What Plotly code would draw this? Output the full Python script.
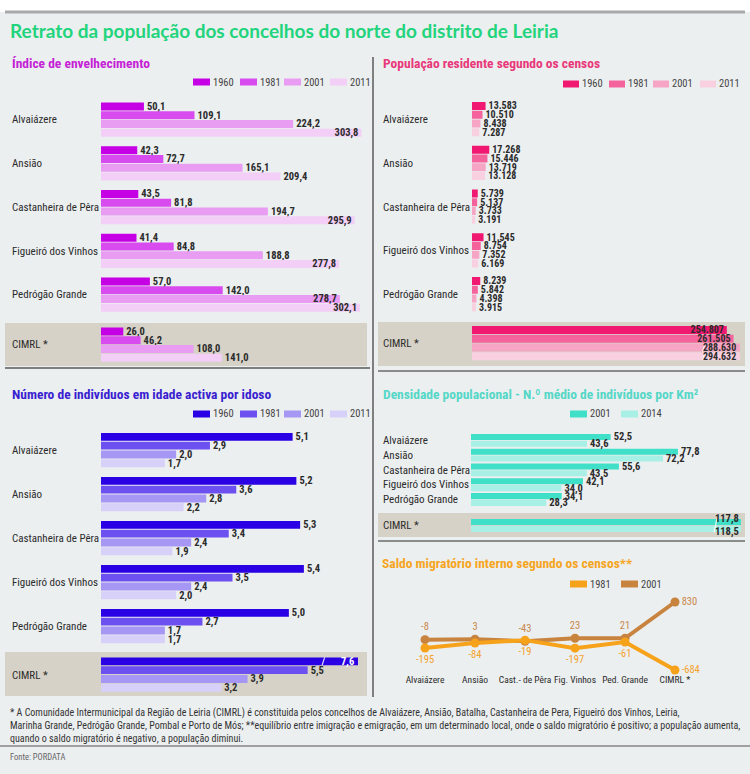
import plotly.graph_objects as go

W, H = 750, 774

# ---------------- data ----------------
concelhos = ["Alvaiázere", "Ansião", "Castanheira de Pêra", "Figueiró dos Vinhos", "Pedrógão Grande"]
cimrl_label = "CIMRL *"
anos_censos = ["1960", "1981", "2001", "2011"]
anos_dens = ["2001", "2014"]
anos_mig = ["1981", "2001"]

env_1960 = [50.1, 42.3, 43.5, 41.4, 57.0]
env_1981 = [109.1, 72.7, 81.8, 84.8, 142.0]
env_2001 = [224.2, 165.1, 194.7, 188.8, 278.7]
env_2011 = [303.8, 209.4, 295.9, 277.8, 302.1]
env_cimrl = [26.0, 46.2, 108.0, 141.0]

pop_1960 = [13583, 17268, 5739, 11545, 8239]
pop_1981 = [10510, 15446, 5137, 8754, 5842]
pop_2001 = [8438, 13719, 3733, 7352, 4398]
pop_2011 = [7287, 13128, 3191, 6169, 3915]
pop_cimrl = [254807, 261505, 288630, 294632]

act_1960 = [5.1, 5.2, 5.3, 5.4, 5.0]
act_1981 = [2.9, 3.6, 3.4, 3.5, 2.7]
act_2001 = [2.0, 2.8, 2.4, 2.4, 1.7]
act_2011 = [1.7, 2.2, 1.9, 2.0, 1.7]
act_cimrl = [7.6, 5.5, 3.9, 3.2]

dens_2001 = [52.5, 77.8, 55.6, 42.1, 34.1]
dens_2014 = [43.6, 72.2, 43.5, 34.0, 28.3]
dens_cimrl = [117.8, 118.5]

mig_cats = ["Alvaiázere", "Ansião", "Cast.- de Pêra", "Fig. Vinhos", "Ped. Grande", "CIMRL *"]
mig_1981 = [-195, -84, -19, -197, -61, -684]
mig_2001 = [-8, 3, -43, 23, 21, 830]

# ---------------- styles ----------------
FN = "Roboto Condensed, Liberation Sans Narrow, Lato, sans-serif"
FM = "Roboto Condensed, Lato, sans-serif"
FT = "Lato, Open Sans, sans-serif"
TXT = "#2b2b2b"
BG = "#eceff0"
BAND = "#d6d2c7"

env_colors = ["#c600e4", "#d84cef", "#e89cf2", "#f3cff7"]
pop_colors = ["#f01870", "#f5639c", "#f7a5c4", "#f9d0e0"]
act_colors = ["#2a00e4", "#6d50f0", "#a597f3", "#d7d0f8"]
dens_colors = ["#3fdfc8", "#a8f0e6"]
mig_colors = ["#f7a21b", "#c8843f"]


def px(x):
    return x / W


def py(y):
    return 1 - y / H


def f1(v):
    return f"{v:.1f}".replace(".", ",")


def fpop(v):
    return f"{v:,}".replace(",", ".")


fig = go.Figure()
shapes = []
annotations = []
layout_axes = {}


def add_text(x, y, text, size=10, color=TXT, family=FN, xanchor="left", bold=False, xref="paper", yref="paper", yanchor="middle"):
    annotations.append(dict(
        x=x, y=y, xref=xref, yref=yref, text=(f"<b>{text}</b>" if bold else text),
        showarrow=False, xanchor=xanchor, yanchor=yanchor, xshift=-2,
        font=dict(size=size, color=color, family=family)))


def axis_pair(n, xdom, ydom, xrange_, yrange_, ycats=None):
    xs = "xaxis" if n == 1 else f"xaxis{n}"
    ys = "yaxis" if n == 1 else f"yaxis{n}"
    layout_axes[xs] = dict(domain=[px(xdom[0]), px(xdom[1])], range=xrange_, visible=False,
                           anchor=("y" if n == 1 else f"y{n}"), fixedrange=True)
    yd = dict(domain=[py(ydom[1]), py(ydom[0])], range=yrange_, visible=False,
              anchor=("x" if n == 1 else f"x{n}"), fixedrange=True)
    if ycats is not None:
        yd.update(type="category", categoryorder="array", categoryarray=ycats)
    layout_axes[ys] = yd
    return ("x" if n == 1 else f"x{n}"), ("y" if n == 1 else f"y{n}")


def legend_row(items, colors, xs, y, sw=17, sh=7):
    for lab, col, x in zip(items, colors, xs):
        shapes.append(dict(type="rect", xref="paper", yref="paper", x0=px(x), x1=px(x + sw),
                           y0=py(y + sh / 2), y1=py(y - sh / 2), fillcolor=col, line=dict(width=0)))
        add_text(px(x + sw + 3), py(y), lab, size=10.5, color="#444")


def slash(xref, yref, xval, ylo, yhi):
    shapes.append(dict(type="line", xref=xref, yref=yref, x0=xval, x1=xval * 1.012, y0=ylo, y1=yhi,
                       line=dict(color="rgba(255,255,255,0.85)", width=1.2)))


def bar_panel(nmain, ncim, xstart, xend, xmax, main_center0, pitch, cim_center, series, cim_vals,
              colors, years, fmt, label_x, offsets, width, inside_frac=None, clip_text_color=TXT,
              cim_inside=True, vsize=10.5):
    ntot = len(concelhos)
    top = main_center0 - pitch / 2
    xm, ym = axis_pair(nmain, (xstart, xend), (top, top + pitch * ntot), [0, xmax],
                       [ntot - 0.5, -0.5], concelhos)
    xc, yc = axis_pair(ncim, (xstart, xend), (cim_center - pitch / 2, cim_center + pitch / 2), [0, xmax],
                       [0.5, -0.5], [cimrl_label])
    for j, (vals, col, yr) in enumerate(zip(series, colors, years)):
        pos = []
        for v in vals:
            if inside_frac is not None and v > inside_frac * xmax:
                pos.append("inside")
            else:
                pos.append("outside")
        fig.add_trace(go.Bar(
            orientation="h", y=concelhos, x=vals, xaxis=xm, yaxis=ym, name=yr,
            offset=offsets[j], width=width, marker=dict(color=col, line=dict(width=0)),
            text=[fmt(v) for v in vals], textposition=pos, constraintext="none",
            insidetextanchor="end", cliponaxis=False,
            textfont=dict(size=vsize, color=TXT, family=FN, weight=700),
            showlegend=False, hoverinfo="skip"))
        cv = cim_vals[j]
        fits = cv <= xmax
        fig.add_trace(go.Bar(
            orientation="h", y=[cimrl_label], x=[cv], xaxis=xc, yaxis=yc, name=yr,
            offset=offsets[j], width=width, marker=dict(color=col, line=dict(width=0)),
            text=[fmt(cv) if fits else ""],
            textposition=("inside" if (cim_inside and cv > 0.8 * xmax) else "outside"),
            constraintext="none", insidetextanchor="end", cliponaxis=False,
            textfont=dict(size=vsize, color=TXT, family=FN, weight=700),
            showlegend=False, hoverinfo="skip"))
        if not fits:
            annotations.append(dict(
                x=xmax, y=offsets[j] + width / 2, xref=xc, yref=yc, text=f"<b>{fmt(cv)}</b>",
                showarrow=False, xanchor="right", yanchor="middle", xshift=-2,
                font=dict(size=vsize, color=clip_text_color, family=FN)))
            slash(xc, yc, xmax * 0.86, offsets[j] + width, offsets[j])
    for i, c in enumerate(concelhos):
        annotations.append(dict(x=px(label_x), y=i, xref="paper", yref=ym, text=c, showarrow=False,
                                xanchor="left", yanchor="middle", xshift=-2,
                                font=dict(size=11, color=TXT, family=FN)))
    annotations.append(dict(x=px(label_x), y=0, xref="paper", yref=yc, text=cimrl_label, showarrow=False,
                            xanchor="left", yanchor="middle", xshift=-2,
                            font=dict(size=11, color=TXT, family=FN)))


# ---------------- background & frame ----------------
shapes.append(dict(type="rect", xref="paper", yref="paper", x0=0, x1=1, y0=0, y1=py(12),
                   fillcolor=BG, line=dict(width=0), layer="below"))
shapes.append(dict(type="line", xref="paper", yref="paper", x0=px(5), x1=px(745), y0=py(12), y1=py(12),
                   line=dict(color="#a9a9a9", width=3)))
add_text(px(10), py(31), "Retrato da população dos concelhos do norte do distrito de Leiria",
         size=19, color="#22d47c", family=FT, bold=True)

# CIMRL bands
for (x0, x1, y0, y1) in [(5, 367, 323, 366), (378, 745, 322, 366), (5, 367, 652, 696), (378, 745, 513, 537)]:
    shapes.append(dict(type="rect", xref="paper", yref="paper", x0=px(x0), x1=px(x1), y0=py(y1), y1=py(y0),
                       fillcolor=BAND, line=dict(width=0), layer="below"))

# divider lines
for (x0, y0, x1, y1, c, w) in [
    (373, 57, 373, 697, "#5a5a5a", 1.5),
    (5, 368, 370, 368, "#5a5a5a", 1.5),
    (378, 371, 745, 371, "#6a6a6a", 1.5),
    (378, 541, 745, 541, "#6a6a6a", 1.5),
    (0, 746, 750, 746, "#a0a0a0", 2),
]:
    shapes.append(dict(type="line", xref="paper", yref="paper", x0=px(x0), x1=px(x1), y0=py(y0), y1=py(y1),
                       line=dict(color=c, width=w)))

off4 = [-0.4, -0.2, 0.0, 0.2]
w4 = 0.18

# ---------------- Panel 1: Índice de envelhecimento ----------------
add_text(px(12), py(63), "Índice de envelhecimento", size=13.5, color="#c41fd6", family=FM, bold=True)
legend_row(anos_censos, env_colors, [193, 240, 284, 330], 82)
bar_panel(1, 2, 101, 365, 308, 120, 43.75, 345, [env_1960, env_1981, env_2001, env_2011], env_cimrl,
          env_colors, anos_censos, f1, 12, off4, w4, inside_frac=0.9)

# ---------------- Panel 2: População residente ----------------
add_text(px(383), py(63), "População residente segundo os censos", size=13.5, color="#e8387a", family=FM, bold=True)
legend_row(anos_censos, pop_colors, [563, 609, 653, 700], 84, sw=16)
bar_panel(3, 4, 472, 740, 268000, 119.5, 43.75, 343.5, [pop_1960, pop_1981, pop_2001, pop_2011], pop_cimrl,
          pop_colors, anos_censos, fpop, 383, off4, w4, vsize=10)

# ---------------- Panel 3: Idade activa por idoso ----------------
add_text(px(12), py(394), "Número de indivíduos em idade activa por idoso", size=13.5, color="#3a1fd0", family=FM, bold=True)
legend_row(anos_censos, act_colors, [193, 240, 284, 330], 414)
bar_panel(5, 6, 101, 358, 6.84, 450.5, 44, 675, [act_1960, act_1981, act_2001, act_2011], act_cimrl,
          act_colors, anos_censos, f1, 12, off4, w4, clip_text_color="#ffffff", cim_inside=False)

# ---------------- Panel 4: Densidade ----------------
add_text(px(383), py(394), "Densidade populacional - N.º médio de indivíduos por Km²", size=13.5,
         color="#55d7c7", family=FM, bold=True)
legend_row(anos_dens, dens_colors, [570, 621], 414, sw=17)
DX = 101.5
xm, ym = axis_pair(7, (471, 741), (433, 507), [0, DX], [len(concelhos) - 0.5, -0.5], concelhos)
xc, yc = axis_pair(8, (471, 741), (518, 533), [0, DX], [0.5, -0.5], [cimrl_label])
off2 = [-0.44, 0.02]
w2 = 0.41
for j, (vals, col, yr) in enumerate(zip([dens_2001, dens_2014], dens_colors, anos_dens)):
    fig.add_trace(go.Bar(
        orientation="h", y=concelhos, x=vals, xaxis=xm, yaxis=ym, name=yr, offset=off2[j], width=w2,
        marker=dict(color=col, line=dict(width=0)), text=[f1(v) for v in vals], textposition="outside",
        constraintext="none", cliponaxis=False,
        textfont=dict(size=10.5, color=TXT, family=FN, weight=700), showlegend=False, hoverinfo="skip"))
    cv = dens_cimrl[j]
    fig.add_trace(go.Bar(
        orientation="h", y=[cimrl_label], x=[cv], xaxis=xc, yaxis=yc, name=yr, offset=off2[j], width=w2,
        marker=dict(color=col, line=dict(width=0)), showlegend=False, hoverinfo="skip"))
    annotations.append(dict(x=min(cv, DX), y=off2[j] + w2 / 2, yshift=(3 if j == 0 else -3), xref=xc, yref=yc,
                            text=f"<b>{f1(cv)}</b>", showarrow=False, xanchor="right", yanchor="middle",
                            font=dict(size=10.5, color=TXT, family=FN)))
slash(xc, yc, DX * 0.9, 0.45, -0.45)
for i, c in enumerate(concelhos):
    annotations.append(dict(x=px(383), y=i, xref="paper", yref=ym, text=c, showarrow=False, xanchor="left",
                            yanchor="middle", xshift=-2, font=dict(size=11, color=TXT, family=FN)))
annotations.append(dict(x=px(383), y=0, xref="paper", yref=yc, text=cimrl_label, showarrow=False,
                        xanchor="left", yanchor="middle", xshift=-2, font=dict(size=11, color=TXT, family=FN)))

# ---------------- Panel 5: Saldo migratório ----------------
add_text(px(382), py(563), "Saldo migratório interno segundo os censos**", size=13.5, color="#f5a51f", family=FM, bold=True)
legend_row(anos_mig, mig_colors, [570, 621], 584)
layout_axes["xaxis9"] = dict(domain=[px(400), px(700)], type="category", categoryorder="array",
                             categoryarray=mig_cats, range=[-0.5, 5.5], anchor="y9", showgrid=False,
                             zeroline=False, showline=False, ticks="", tickangle=0, fixedrange=True,
                             tickfont=dict(size=9.5, color=TXT, family=FN))
layout_axes["yaxis9"] = dict(domain=[py(672), py(590)], range=[-728, 1097], anchor="x9", visible=False,
                             fixedrange=True)
n = len(mig_cats)
pos2001 = ["top center"] * (n - 1) + ["middle right"]
pos1981 = ["bottom center"] * (n - 1) + ["middle right"]
fig.add_trace(go.Scatter(
    x=mig_cats, y=mig_2001, xaxis="x9", yaxis="y9", mode="lines+markers+text", name=anos_mig[1],
    line=dict(color=mig_colors[1], width=4), marker=dict(size=9, color=mig_colors[1]),
    text=[str(v) for v in mig_2001], textposition=pos2001, cliponaxis=False,
    textfont=dict(size=10.5, color="#c8884c", family=FN), showlegend=False, hoverinfo="skip"))
fig.add_trace(go.Scatter(
    x=mig_cats, y=mig_1981, xaxis="x9", yaxis="y9", mode="lines+markers+text", name=anos_mig[0],
    line=dict(color=mig_colors[0], width=4), marker=dict(size=9, color=mig_colors[0]),
    text=[str(v) for v in mig_1981], textposition=pos1981, cliponaxis=False,
    textfont=dict(size=10.5, color="#f3a22c", family=FN), showlegend=False, hoverinfo="skip"))

# ---------------- footnote ----------------
foot = [
    "* A Comunidade Intermunicipal da Região de Leiria (CIMRL) é constituida pelos concelhos de Alvaiázere, Ansião, Batalha, Castanheira de Pera, Figueiró dos Vinhos, Leiria,",
    "Marinha Grande, Pedrógão Grande, Pombal e Porto de Mós; **equilíbrio entre imigração e emigração, em um determinado local, onde o saldo migratório é positivo; a população aumenta,",
    "quando o saldo migratório é negativo, a população diminui.",
]
for k, line in enumerate(foot):
    add_text(px(10), py(713 + 12.5 * k), line, size=10, color="#333333")
add_text(px(10), py(757), "Fonte: PORDATA", size=8.5, color="#666666")

fig.update_layout(
    width=W, height=H, margin=dict(l=0, r=0, t=0, b=0),
    paper_bgcolor="#ffffff", plot_bgcolor="rgba(0,0,0,0)",
    barmode="overlay", showlegend=False, separators=",.",
    shapes=shapes, annotations=annotations, **layout_axes)

fig.write_html("out.html", config={"displayModeBar": False},
               post_script="document.body.style.margin='0px';")
